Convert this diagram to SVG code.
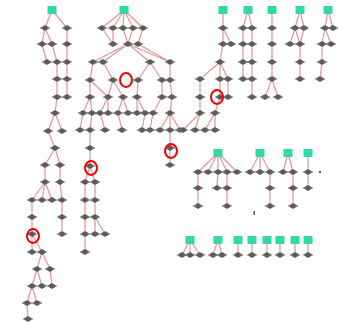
<svg xmlns="http://www.w3.org/2000/svg" xmlns:xlink="http://www.w3.org/1999/xlink" width="343" height="327" viewBox="0 0 343 327">
<style>
.e{stroke:#e79494;stroke-width:1.2;fill:none}
.hl{fill:none;stroke:#f00000;stroke-width:2}
</style>
<defs>
<g id="nd"><path d="M-5.5,0 L0,-2.8 L5.5,0 L0,2.8 Z" fill="#747474"/><ellipse rx="2.6" ry="2.4" fill="#5c5c5c"/></g>
<rect id="rt" x="-4.5" y="-4" width="9" height="8" fill="#33d8a8"/>
</defs>
<rect width="343" height="327" fill="#ffffff"/>
<g id="connectors">
<path class="e" d="M52,10L45,28M52,10L67,28M45,28L42,44M45,28L52,44M67,28L67,44M42,44L47,62M52,44L57,62M67,44L67,62M57,62L57,79M67,62L67,79M57,79L57,97M67,79L67,97M57,97L55,113M55,113L48,131M55,113L62,131M48,131L55,148M55,148L45,165M55,148L60,165M45,165L45,182M60,165L60,182M45,182L32,200M45,182L42,200M45,182L52,200M60,182L62,200M32,200L32,217M62,200L62,217M32,217L32,234M62,217L62,234M32,234L32,252M32,234L42,252M42,252L37,269M42,252L50,269M37,269L32,286M37,269L42,286M50,269L52,286M32,286L27,303M32,286L37,303M27,303L28,319"/>
<path class="e" d="M124,10L102,28M124,10L113,28M124,10L123,28M124,10L133,28M124,10L143,28M102,28L113,44M113,28L113,44M133,28L128,44M123,28L128,44M143,28L138,44M128,44L93,62M128,44L103,62M128,44L150,62M128,44L170,62M138,44L170,62M93,62L90,80M103,62L113,80M150,62L138,80M150,62L162,80M170,62L170,80M90,80L90,97M90,80L108,97M113,80L108,97M113,80L123,97M138,80L137,97M162,80L162,97M170,80L172,97M90,97L83,113M90,97L92,113M108,97L100,113M108,97L108,113M123,97L118,113M123,97L128,113M137,97L137,113M137,97L145,113M162,97L153,113M172,97L170,113M83,113L80,130M92,113L90,130M100,113L105,130M118,113L122,130M145,113L142,130M153,113L150,130M170,113L160,130M170,113L170,130M170,113L180,130M90,130L90,148M90,148L90,166M90,166L85,182M90,166L95,182M85,182L85,200M95,182L95,200M85,200L85,217M95,200L95,217M85,217L85,234M95,217L95,234M95,217L105,234M85,234L85,252M170,130L170,148M170,148L170,165"/>
<path class="e" d="M223,10L223,28M223,28L223,44M223,28L231,44M223,44L220,62M220,62L200,79M220,62L220,79M220,62L228,79M200,79L200,97M220,79L220,97M228,79L228,97M200,97L200,113M220,97L215,113M200,113L183,130M200,113L195,130M215,113L205,130M215,113L215,130M248,10L243,28M248,10L252,28M243,28L243,44M252,28L252,44M243,44L243,62M252,44L252,62M243,62L243,79M252,62L252,79M252,79L252,97M272,10L272,28M272,28L272,44M272,44L272,62M272,62L272,79M272,79L265,97M272,79L278,97M300,10L295,28M300,10L304,28M295,28L290,44M295,28L300,44M304,28L300,44M300,44L300,62M300,62L300,79M328,10L325,28M328,10L333,28M325,28L322,44M325,28L331,44M322,44L322,62M322,62L320,79"/>
<path class="e" d="M218,153L198,172M218,153L208,172M218,153L218,172M218,153L227,172M218,153L237,172M198,172L198,188M198,188L198,206M218,172L217,188M227,172L227,188M227,188L227,206M260,153L250,172M260,153L260,172M260,153L270,172M270,172L270,188M270,188L270,206M288,153L283,172M288,153L293,172M293,172L293,188M293,188L293,206M308,153L308,172M308,172L308,188"/>
<path class="e" d="M190,240L182,255M190,240L190,255M190,240L200,255M218,240L213,255M218,240L222,255M238,240L238,255M252,240L252,255M267,240L267,255M280,240L280,255M295,240L295,255M308,240L308,255"/>
</g>
<g id="roots">
<g id="a0"><use href="#rt" x="52" y="10"/></g>
<g id="b0"><use href="#rt" x="124" y="10"/></g>
<g id="c0"><use href="#rt" x="223" y="10"/></g>
<g id="c1"><use href="#rt" x="248" y="10"/></g>
<g id="c2"><use href="#rt" x="272" y="10"/></g>
<g id="c3"><use href="#rt" x="300" y="10"/></g>
<g id="c4"><use href="#rt" x="328" y="10"/></g>
<g id="d0"><use href="#rt" x="218" y="153"/></g>
<g id="d1"><use href="#rt" x="260" y="153"/></g>
<g id="d2"><use href="#rt" x="288" y="153"/></g>
<g id="d3"><use href="#rt" x="308" y="153"/></g>
<g id="e0"><use href="#rt" x="190" y="240"/></g>
<g id="e1"><use href="#rt" x="218" y="240"/></g>
<g id="e2"><use href="#rt" x="238" y="240"/></g>
<g id="e3"><use href="#rt" x="252" y="240"/></g>
<g id="e4"><use href="#rt" x="267" y="240"/></g>
<g id="e5"><use href="#rt" x="280" y="240"/></g>
<g id="e6"><use href="#rt" x="295" y="240"/></g>
<g id="e7"><use href="#rt" x="308" y="240"/></g>
</g>
<g id="nodes">
<g id="a1"><use href="#nd" x="45" y="28"/></g><g id="a2"><use href="#nd" x="67" y="28"/></g>
<g id="a3"><use href="#nd" x="42" y="44"/></g><g id="a4"><use href="#nd" x="52" y="44"/></g><g id="a5"><use href="#nd" x="67" y="44"/></g>
<g id="a6"><use href="#nd" x="47" y="62"/></g><g id="a7"><use href="#nd" x="57" y="62"/></g><g id="a8"><use href="#nd" x="67" y="62"/></g>
<g id="a9"><use href="#nd" x="57" y="79"/></g><g id="a10"><use href="#nd" x="67" y="79"/></g>
<g id="a11"><use href="#nd" x="57" y="97"/></g><g id="a12"><use href="#nd" x="67" y="97"/></g>
<g id="a13"><use href="#nd" x="55" y="113"/></g>
<g id="a15"><use href="#nd" x="48" y="131"/></g><g id="a16"><use href="#nd" x="62" y="131"/></g>
<g id="a17"><use href="#nd" x="55" y="148"/></g>
<g id="a18"><use href="#nd" x="45" y="165"/></g><g id="a19"><use href="#nd" x="60" y="165"/></g>
<g id="a20"><use href="#nd" x="45" y="182"/></g><g id="a21"><use href="#nd" x="60" y="182"/></g>
<g id="a22"><use href="#nd" x="32" y="200"/></g><g id="a23"><use href="#nd" x="42" y="200"/></g><g id="a24"><use href="#nd" x="52" y="200"/></g><g id="a25"><use href="#nd" x="62" y="200"/></g>
<g id="a26"><use href="#nd" x="32" y="217"/></g><g id="a27"><use href="#nd" x="62" y="217"/></g>
<g id="a28"><use href="#nd" x="32" y="234"/></g><g id="a29"><use href="#nd" x="62" y="234"/></g>
<g id="a30"><use href="#nd" x="32" y="252"/></g><g id="a31"><use href="#nd" x="42" y="252"/></g>
<g id="a32"><use href="#nd" x="37" y="269"/></g><g id="a33"><use href="#nd" x="50" y="269"/></g>
<g id="a34"><use href="#nd" x="32" y="286"/></g><g id="a35"><use href="#nd" x="42" y="286"/></g><g id="a36"><use href="#nd" x="52" y="286"/></g>
<g id="a37"><use href="#nd" x="27" y="303"/></g><g id="a38"><use href="#nd" x="37" y="303"/></g>
<g id="a39"><use href="#nd" x="28" y="319"/></g>
<g id="b1"><use href="#nd" x="102" y="28"/></g><g id="b2"><use href="#nd" x="113" y="28"/></g><g id="b3"><use href="#nd" x="123" y="28"/></g><g id="b4"><use href="#nd" x="133" y="28"/></g><g id="b5"><use href="#nd" x="143" y="28"/></g>
<g id="b6"><use href="#nd" x="113" y="44"/></g><g id="b7"><use href="#nd" x="128" y="44"/></g><g id="b8"><use href="#nd" x="138" y="44"/></g>
<g id="b9"><use href="#nd" x="93" y="62"/></g><g id="b10"><use href="#nd" x="103" y="62"/></g><g id="b11"><use href="#nd" x="150" y="62"/></g><g id="b12"><use href="#nd" x="170" y="62"/></g>
<g id="b13"><use href="#nd" x="90" y="80"/></g><g id="b14"><use href="#nd" x="113" y="80"/></g><g id="b15"><use href="#nd" x="138" y="80"/></g><g id="b16"><use href="#nd" x="162" y="80"/></g><g id="b17"><use href="#nd" x="170" y="80"/></g>
<g id="b18"><use href="#nd" x="90" y="97"/></g><g id="b19"><use href="#nd" x="108" y="97"/></g><g id="b20"><use href="#nd" x="123" y="97"/></g><g id="b21"><use href="#nd" x="137" y="97"/></g><g id="b22"><use href="#nd" x="162" y="97"/></g><g id="b23"><use href="#nd" x="172" y="97"/></g>
<g id="b24"><use href="#nd" x="83" y="113"/></g><g id="b25"><use href="#nd" x="92" y="113"/></g><g id="b26"><use href="#nd" x="100" y="113"/></g><g id="b27"><use href="#nd" x="108" y="113"/></g><g id="b28"><use href="#nd" x="118" y="113"/></g><g id="b29"><use href="#nd" x="128" y="113"/></g><g id="b30"><use href="#nd" x="137" y="113"/></g><g id="b31"><use href="#nd" x="145" y="113"/></g><g id="b32"><use href="#nd" x="153" y="113"/></g><g id="b33"><use href="#nd" x="170" y="113"/></g>
<g id="b34"><use href="#nd" x="80" y="130"/></g><g id="b35"><use href="#nd" x="90" y="130"/></g><g id="b36"><use href="#nd" x="105" y="130"/></g><g id="b37"><use href="#nd" x="122" y="130"/></g><g id="b38"><use href="#nd" x="142" y="130"/></g><g id="b39"><use href="#nd" x="150" y="130"/></g><g id="b40"><use href="#nd" x="160" y="130"/></g><g id="b41"><use href="#nd" x="170" y="130"/></g><g id="b42"><use href="#nd" x="180" y="130"/></g>
<g id="b43"><use href="#nd" x="90" y="148"/></g><g id="b44"><use href="#nd" x="90" y="166"/></g>
<g id="b45"><use href="#nd" x="85" y="182"/></g><g id="b46"><use href="#nd" x="95" y="182"/></g>
<g id="b47"><use href="#nd" x="85" y="200"/></g><g id="b48"><use href="#nd" x="95" y="200"/></g>
<g id="b49"><use href="#nd" x="85" y="217"/></g><g id="b50"><use href="#nd" x="95" y="217"/></g>
<g id="b51"><use href="#nd" x="85" y="234"/></g><g id="b52"><use href="#nd" x="95" y="234"/></g><g id="b53"><use href="#nd" x="105" y="234"/></g>
<g id="b54"><use href="#nd" x="85" y="252"/></g>
<g id="b55"><use href="#nd" x="170" y="148"/></g><g id="b56"><use href="#nd" x="170" y="165"/></g>
<g id="c5"><use href="#nd" x="223" y="28"/></g><g id="c6"><use href="#nd" x="223" y="44"/></g><g id="c7"><use href="#nd" x="231" y="44"/></g>
<g id="c8"><use href="#nd" x="220" y="62"/></g>
<g id="c9"><use href="#nd" x="200" y="79"/></g><g id="c10"><use href="#nd" x="220" y="79"/></g><g id="c11"><use href="#nd" x="228" y="79"/></g>
<g id="c12"><use href="#nd" x="200" y="97"/></g><g id="c13"><use href="#nd" x="220" y="97"/></g><g id="c14"><use href="#nd" x="228" y="97"/></g>
<g id="c15"><use href="#nd" x="200" y="113"/></g><g id="c16"><use href="#nd" x="215" y="113"/></g>
<g id="c17"><use href="#nd" x="183" y="130"/></g><g id="c18"><use href="#nd" x="195" y="130"/></g><g id="c19"><use href="#nd" x="205" y="130"/></g><g id="c20"><use href="#nd" x="215" y="130"/></g>
<g id="c21"><use href="#nd" x="243" y="28"/></g><g id="c22"><use href="#nd" x="252" y="28"/></g>
<g id="c23"><use href="#nd" x="243" y="44"/></g><g id="c24"><use href="#nd" x="252" y="44"/></g>
<g id="c25"><use href="#nd" x="243" y="62"/></g><g id="c26"><use href="#nd" x="252" y="62"/></g>
<g id="c27"><use href="#nd" x="243" y="79"/></g><g id="c28"><use href="#nd" x="252" y="79"/></g>
<g id="c29"><use href="#nd" x="252" y="97"/></g>
<g id="c30"><use href="#nd" x="272" y="28"/></g><g id="c31"><use href="#nd" x="272" y="44"/></g><g id="c32"><use href="#nd" x="272" y="62"/></g><g id="c33"><use href="#nd" x="272" y="79"/></g>
<g id="c34"><use href="#nd" x="265" y="97"/></g><g id="c35"><use href="#nd" x="278" y="97"/></g>
<g id="c36"><use href="#nd" x="295" y="28"/></g><g id="c37"><use href="#nd" x="304" y="28"/></g>
<g id="c38"><use href="#nd" x="290" y="44"/></g><g id="c39"><use href="#nd" x="300" y="44"/></g>
<g id="c40"><use href="#nd" x="300" y="62"/></g><g id="c41"><use href="#nd" x="300" y="79"/></g>
<g id="c42"><use href="#nd" x="325" y="28"/></g><g id="c43"><use href="#nd" x="333" y="28"/></g>
<g id="c44"><use href="#nd" x="322" y="44"/></g><g id="c45"><use href="#nd" x="331" y="44"/></g>
<g id="c46"><use href="#nd" x="322" y="62"/></g><g id="c47"><use href="#nd" x="320" y="79"/></g>
<g id="d4"><use href="#nd" x="198" y="172"/></g><g id="d5"><use href="#nd" x="208" y="172"/></g><g id="d6"><use href="#nd" x="218" y="172"/></g><g id="d7"><use href="#nd" x="227" y="172"/></g><g id="d8"><use href="#nd" x="237" y="172"/></g>
<g id="d9"><use href="#nd" x="198" y="188"/></g><g id="d10"><use href="#nd" x="217" y="188"/></g><g id="d11"><use href="#nd" x="227" y="188"/></g>
<g id="d12"><use href="#nd" x="198" y="206"/></g><g id="d13"><use href="#nd" x="227" y="206"/></g>
<g id="d14"><use href="#nd" x="250" y="172"/></g><g id="d15"><use href="#nd" x="260" y="172"/></g><g id="d16"><use href="#nd" x="270" y="172"/></g>
<g id="d17"><use href="#nd" x="270" y="188"/></g><g id="d18"><use href="#nd" x="270" y="206"/></g>
<g id="d19"><use href="#nd" x="283" y="172"/></g><g id="d20"><use href="#nd" x="293" y="172"/></g>
<g id="d21"><use href="#nd" x="293" y="188"/></g><g id="d22"><use href="#nd" x="293" y="206"/></g>
<g id="d23"><use href="#nd" x="308" y="172"/></g><g id="d24"><use href="#nd" x="308" y="188"/></g>
<g id="d25"><rect x="319" y="171" width="2" height="2" fill="#555"/></g>
<g id="d26"><rect x="253.5" y="211" width="1.5" height="4" fill="#555"/></g>
<g id="e8"><use href="#nd" x="182" y="255"/></g><g id="e9"><use href="#nd" x="190" y="255"/></g><g id="e10"><use href="#nd" x="200" y="255"/></g>
<g id="e11"><use href="#nd" x="213" y="255"/></g><g id="e12"><use href="#nd" x="222" y="255"/></g>
<g id="e13"><use href="#nd" x="238" y="255"/></g><g id="e14"><use href="#nd" x="252" y="255"/></g><g id="e15"><use href="#nd" x="267" y="255"/></g><g id="e16"><use href="#nd" x="280" y="255"/></g><g id="e17"><use href="#nd" x="295" y="255"/></g><g id="e18"><use href="#nd" x="308" y="255"/></g>
</g>
<g id="highlights">
<ellipse class="hl" cx="126" cy="80" rx="6" ry="7"/>
<ellipse class="hl" cx="217" cy="97" rx="6" ry="7"/>
<ellipse class="hl" cx="171" cy="151" rx="6" ry="7"/>
<ellipse class="hl" cx="91" cy="168" rx="6" ry="7"/>
<ellipse class="hl" cx="33" cy="236" rx="6" ry="7"/>
</g>
</svg>
